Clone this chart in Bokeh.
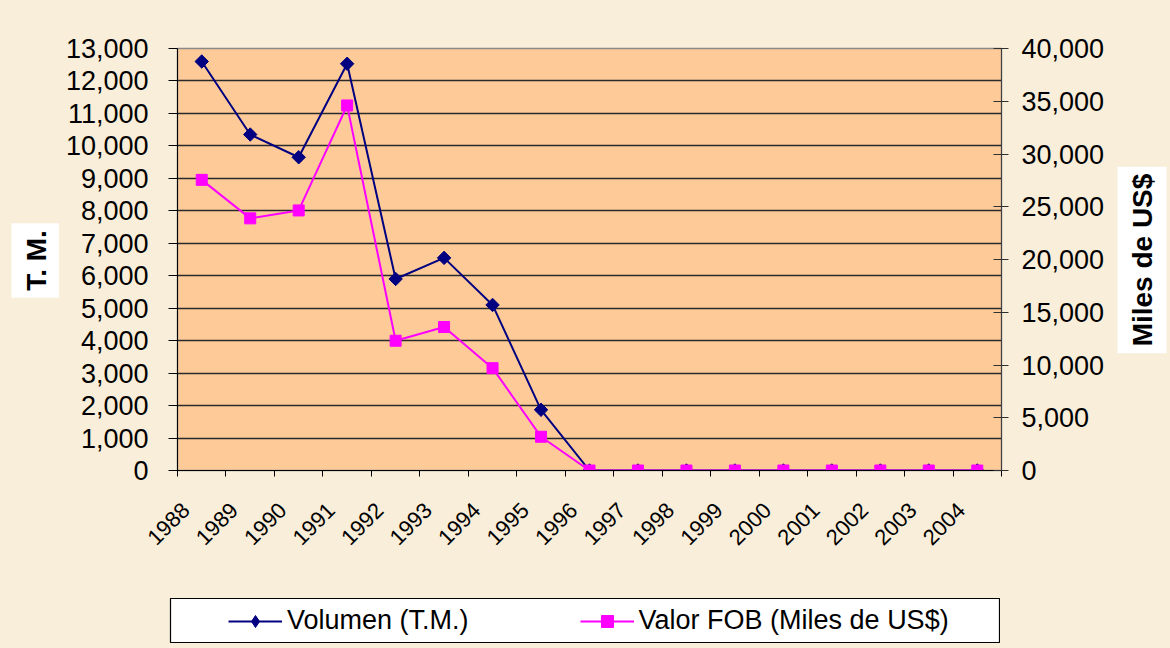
import math
from bokeh.plotting import figure
from bokeh.layouts import row, column
from bokeh.models import (Range1d, LinearAxis, FixedTicker, NumeralTickFormatter,
                          Legend, LegendItem, Label)
from bokeh.embed import file_html
from bokeh.resources import INLINE

# ---------------- data ----------------
years = ["1988", "1989", "1990", "1991", "1992", "1993", "1994", "1995", "1996",
         "1997", "1998", "1999", "2000", "2001", "2002", "2003", "2004"]
volumen = [12600, 10350, 9650, 12530, 5900, 6550, 5100, 1870, 0,
           0, 0, 0, 0, 0, 0, 0, 0]
valor_fob = [27550, 23900, 24650, 34600, 12300, 13600, 9700, 3200, 0,
             0, 0, 0, 0, 0, 0, 0, 0]
left_ticks = [0, 1000, 2000, 3000, 4000, 5000, 6000, 7000, 8000, 9000, 10000,
              11000, 12000, 13000]
right_ticks = [0, 5000, 10000, 15000, 20000, 25000, 30000, 35000, 40000]
label_left = "T. M."
label_right = "Miles de US$"
name_vol = "Volumen (T.M.)"
name_fob = "Valor FOB (Miles de US$)"

# ---------------- style ----------------
FONT = "Liberation Sans"
BG = "#F9EEDA"
PLOT_BG = "#FECB98"
NAVY = "#000080"
MAGENTA = "#FF00FF"

# geometry (absolute page px)
MAIN_X0, MAIN_W, MAIN_H = 59, 1051, 598
FRAME_L, FRAME_R, FRAME_T, FRAME_B = 177, 1001, 48, 470
LABEL_SHIFT_PX = 16  # x labels end left of the category centre
BORDER_TOP, BORDER_BOTTOM = FRAME_T, MAIN_H - FRAME_B

n = len(years)
cat_px = (FRAME_R - FRAME_L) / n
xc = [i + 0.5 for i in range(n)]
xlab = [i + 0.5 - LABEL_SHIFT_PX / cat_px for i in range(n)]
bounds = list(range(n + 1))

p = figure(width=MAIN_W, height=MAIN_H, output_backend="svg", toolbar_location=None,
           x_range=Range1d(0, n), y_range=Range1d(left_ticks[0], left_ticks[-1]),
           min_border_left=FRAME_L - MAIN_X0, min_border_right=MAIN_X0 + MAIN_W - FRAME_R,
           min_border_top=BORDER_TOP, min_border_bottom=BORDER_BOTTOM,
           background_fill_color=PLOT_BG, border_fill_color=BG,
           outline_line_color="#8a8a8a", outline_line_width=1.5)
p.extra_y_ranges = {"fob": Range1d(right_ticks[0], right_ticks[-1])}

# x axis: ticks between categories, labels rotated 45 degrees
xa = p.xaxis[0]
xa.ticker = FixedTicker(ticks=xlab, minor_ticks=bounds)
xa.major_label_overrides = {v: y for v, y in zip(xlab, years)}
xa.major_label_orientation = math.pi / 4
xa.major_tick_line_color = None
xa.major_tick_out = 0
xa.major_tick_in = 0
xa.minor_tick_out = 6
xa.minor_tick_in = 0
xa.minor_tick_line_color = "black"
xa.axis_line_color = "black"
xa.major_label_text_font = FONT
xa.major_label_text_font_size = "22px"
xa.major_label_text_color = "black"
xa.major_label_standoff = 30

# left axis
ya = p.yaxis[0]
ya.ticker = FixedTicker(ticks=left_ticks)
ya.formatter = NumeralTickFormatter(format="0,0")
ya.major_tick_in = 0
ya.major_tick_out = 9
ya.minor_tick_line_color = None
ya.axis_line_color = "black"
ya.major_tick_line_color = "black"
ya.major_label_text_font = FONT
ya.major_label_text_font_size = "27px"
ya.major_label_text_color = "black"
ya.major_label_standoff = 20

# right axis
ra = LinearAxis(y_range_name="fob", ticker=FixedTicker(ticks=right_ticks),
                formatter=NumeralTickFormatter(format="0,0"))
ra.major_tick_in = 8
ra.major_tick_out = 7
ra.minor_tick_line_color = None
ra.axis_line_color = "#404040"
ra.major_tick_line_color = "#303030"
ra.major_label_text_font = FONT
ra.major_label_text_font_size = "27px"
ra.major_label_text_color = "black"
ra.major_label_standoff = 13
p.add_layout(ra, "right")

p.xgrid.visible = False
p.ygrid.grid_line_color = "#2a2a2a"
p.ygrid.grid_line_width = 1.5

# series
p.line(xc, volumen, line_color=NAVY, line_width=2)
p.scatter(xc, volumen, marker="square", angle=math.pi / 4, size=9.5,
          fill_color=NAVY, line_color=NAVY)
p.line(xc, valor_fob, line_color=MAGENTA, line_width=2, y_range_name="fob")
p.scatter(xc, valor_fob, marker="square", size=11, fill_color=MAGENTA,
          line_color=MAGENTA, y_range_name="fob")


def side_label(text, x0, x1, cx, cy):
    """A strip with the same top/bottom borders as the main plot; the label
    is positioned in page pixel coordinates (y flipped range)."""
    f = figure(width=x1 - x0, height=MAIN_H, output_backend="svg",
               toolbar_location=None, title=None,
               x_axis_location=None, y_axis_location=None,
               x_range=Range1d(x0, x1), y_range=Range1d(FRAME_B, FRAME_T),
               min_border_left=0, min_border_right=0,
               min_border_top=BORDER_TOP, min_border_bottom=BORDER_BOTTOM,
               background_fill_color=BG, border_fill_color=BG,
               outline_line_color=None)
    f.grid.visible = False
    f.add_layout(Label(x=cx, y=cy, text=text, angle=math.pi / 2,
                       text_align="center", text_baseline="middle",
                       text_font=FONT, text_font_size="28px", text_font_style="bold",
                       text_color="black", background_fill_color="white",
                       padding=dict(left=7, right=7, top=9, bottom=9)))
    return f


left_fig = side_label(label_left, 0, MAIN_X0, 35.5, 260)
right_fig = side_label(label_right, MAIN_X0 + MAIN_W, 1170, 1141.5, 259.5)

# legend figure
lf = figure(width=1000, height=45, output_backend="svg", toolbar_location=None, title=None,
            x_axis_location=None, y_axis_location=None,
            x_range=Range1d(0, 1), y_range=Range1d(0, 1),
            min_border_left=170, min_border_top=0, min_border_right=0, min_border_bottom=0,
            background_fill_color="white", border_fill_color=BG,
            outline_line_color="black", outline_line_width=1.2)
lf.grid.visible = False
# legend swatches: off-range points of each series, so that glyphs get drawn
l1 = lf.line(xc[:2], volumen[:2], line_color=NAVY, line_width=2)
s1 = lf.scatter(xc[:1], volumen[:1], marker="diamond", size=13,
                fill_color=NAVY, line_color=NAVY)
l2 = lf.line(xc[:2], valor_fob[:2], line_color=MAGENTA, line_width=2)
s2 = lf.scatter(xc[:1], valor_fob[:1], marker="square", size=11, fill_color=MAGENTA,
                line_color=MAGENTA)
legend = Legend(items=[LegendItem(label=name_vol, renderers=[l1, s1]),
                       LegendItem(label=name_fob, renderers=[l2, s2])],
                orientation="horizontal", location=(52, 1),
                padding=6, spacing=111, glyph_width=54, glyph_height=30,
                label_standoff=5, label_text_font=FONT, label_text_font_size="27px",
                label_text_color="black",
                border_line_alpha=0, background_fill_alpha=0)
lf.add_layout(legend)

layout = column(row(left_fig, p, right_fig), lf)

template = '{% block preamble %}<style>body { background: ' + BG + '; }</style>{% endblock %}'
html = file_html(layout, INLINE, template=template)
with open("out.html", "w") as f:
    f.write(html)
